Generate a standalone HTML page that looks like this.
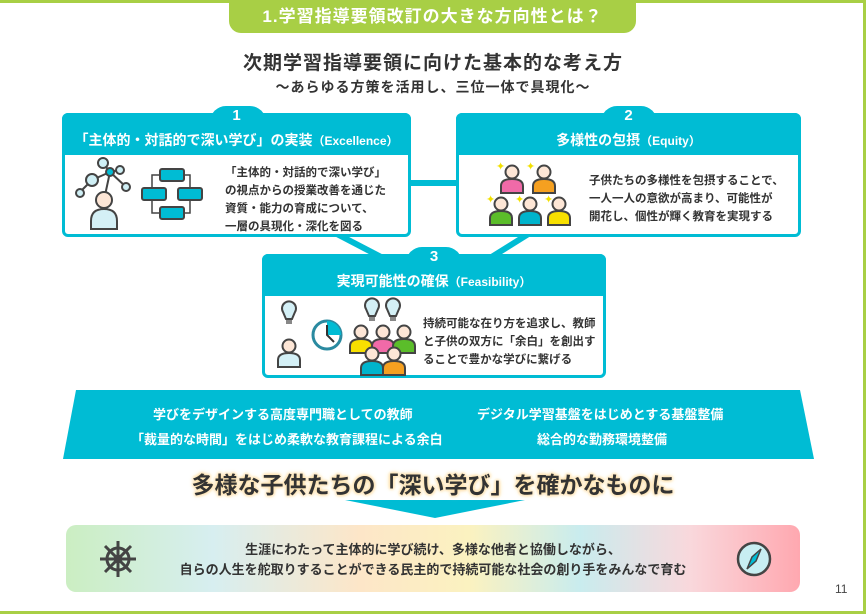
<!DOCTYPE html>
<html><head><meta charset="utf-8">
<style>
*{margin:0;padding:0;box-sizing:border-box}
body{width:866px;height:614px;position:relative;background:#fff;font-family:"Liberation Sans","Noto Sans CJK JP",sans-serif;color:#333;overflow:hidden}
.frame{position:absolute;left:0;top:0;width:866px;height:614px;border:3px solid #a8cf45;border-left:none}
.tab{position:absolute;left:229px;top:0;width:407px;height:33px;background:#a8cf45;border-radius:0 0 12px 12px;color:#fff;font-weight:bold;font-size:17px;text-align:center;line-height:33px;letter-spacing:1px}
.t1{position:absolute;left:0;width:866px;top:48px;text-align:center;font-size:19px;font-weight:bold;color:#333;letter-spacing:1px}
.t2{position:absolute;left:0;width:866px;top:77px;text-align:center;font-size:14px;font-weight:bold;color:#333;letter-spacing:1px}
.box{position:absolute;border:3px solid #00bcd4;border-radius:6px;background:#fff}
.hd{position:absolute;left:-3px;right:-3px;top:-3px;height:42px;background:#00bcd4;border-radius:6px 6px 0 0;color:#fff;font-weight:bold;text-align:center}
.hd .n{position:absolute;left:0;right:0;top:-6px;font-size:15px}
.hd .tt{position:absolute;left:0;right:0;top:17px;font-size:14px}
.hd .tt small{font-size:12px}
.bump{position:absolute;width:56px;height:16px;background:#00bcd4;border-radius:20px 20px 0 0;top:-10px}
.txt{position:absolute;font-size:11.5px;font-weight:bold;line-height:18px;color:#333}
.mid{position:absolute;color:#fff;font-weight:bold;font-size:13px}
.big{position:absolute;left:0;width:866px;top:466px;text-align:center;font-size:23px;font-weight:bold;color:#333;text-shadow:0 0 3px #fde3b0,0 0 3px #fde3b0,0 0 3px #fde3b0,0 0 6px #fde3b0}
.grad{position:absolute;left:66px;top:525px;width:734px;height:67px;border-radius:10px;background:linear-gradient(90deg,#cbeec2 0%,#d7eef0 20%,#fde6c8 40%,#fbf2c0 55%,#c9ecee 70%,#f9d8dc 85%,#ffa8b0 100%)}
.gt{position:absolute;left:0;right:0;top:15px;text-align:center;font-size:13px;font-weight:bold;line-height:20px;color:#333}
</style></head><body>
<div class="frame"></div>
<div class="tab">1.学習指導要領改訂の大きな方向性とは？</div>
<div class="t1">次期学習指導要領に向けた基本的な考え方</div>
<div class="t2">～あらゆる方策を活用し、三位一体で具現化～</div>

<svg style="position:absolute;left:0;top:0" width="866" height="614">
<g stroke="#00bcd4" stroke-width="6" fill="none">
<line x1="408" y1="183" x2="458" y2="183"/>
<polyline points="335,233 383,258"/>
<polyline points="530,233 490,258"/>
</g>
<polygon points="76,390 800,390 814,459 63,459" fill="#00bcd4"/>
<polygon points="345,500 525,500 435,518" fill="#00bcd4"/>
</svg>

<div class="box" style="left:62px;top:113px;width:349px;height:124px">
<div class="bump" style="left:145px"></div>
<div class="hd"><div class="n">1</div><div class="tt">「主体的・対話的で深い学び」の実装<small>（Excellence）</small></div></div>
<div class="txt" style="left:160px;top:48px">「主体的・対話的で深い学び」<br>の視点からの授業改善を通じた<br>資質・能力の育成について、<br>一層の具現化・深化を図る</div>
</div>
<div class="box" style="left:456px;top:113px;width:345px;height:124px">
<div class="bump" style="left:142px"></div>
<div class="hd"><div class="n">2</div><div class="tt">多様性の包摂<small>（Equity）</small></div></div>
<div class="txt" style="left:130px;top:56px">子供たちの多様性を包摂することで、<br>一人一人の意欲が高まり、可能性が<br>開花し、個性が輝く教育を実現する</div>
</div>
<div class="box" style="left:262px;top:254px;width:344px;height:124px">
<div class="bump" style="left:141px"></div>
<div class="hd"><div class="n">3</div><div class="tt">実現可能性の確保<small>（Feasibility）</small></div></div>
<div class="txt" style="left:158px;top:58px">持続可能な在り方を追求し、教師<br>と子供の双方に「余白」を創出す<br>ることで豊かな学びに繋げる</div>
</div>

<svg style="position:absolute;left:0;top:0" width="866" height="614">
<defs>
<g id="p"><circle cx="0" cy="-8" r="6.5" fill="#fde6d6" stroke="#444" stroke-width="2"/><path d="M-11,13 L-11,6 Q-11,-1 0,-1 Q11,-1 11,6 L11,13 Z" stroke="#444" stroke-width="2"/></g>
<g id="b"><path d="M-6,-4 A7,7 0 1 1 6,-4 L3,3 L-3,3 Z" fill="#d4f0f6" stroke="#444" stroke-width="2"/><rect x="-3" y="4" width="6" height="4" fill="#888"/></g>
</defs>
<g stroke="#444" stroke-width="2">
<line x1="104" y1="200" x2="110" y2="172"/><line x1="110" y1="172" x2="92" y2="180"/><line x1="110" y1="172" x2="103" y2="163"/><line x1="110" y1="172" x2="120" y2="170"/><line x1="110" y1="172" x2="125" y2="186"/><line x1="92" y1="180" x2="80" y2="192"/>
<circle cx="103" cy="163" r="5" fill="#cfeff5"/><circle cx="92" cy="180" r="6" fill="#cfeff5"/><circle cx="110" cy="172" r="4" fill="#00bcd4"/><circle cx="120" cy="170" r="4" fill="#cfeff5"/><circle cx="126" cy="187" r="4" fill="#cfeff5"/><circle cx="80" cy="193" r="4" fill="#cfeff5"/>
<circle cx="104" cy="200" r="8" fill="#fde6d6"/>
<path d="M91,229 L91,221 Q91,209 104,209 Q117,209 117,221 L117,229 Z" fill="#d4f0f6"/>
<rect x="160" y="169" width="24" height="12" rx="2" fill="#00bcd4"/><rect x="142" y="188" width="24" height="12" rx="2" fill="#00bcd4"/><rect x="178" y="188" width="24" height="12" rx="2" fill="#00bcd4"/><rect x="160" y="207" width="24" height="12" rx="2" fill="#00bcd4"/>
<polyline points="160,175 152,175 152,188" fill="none" stroke-width="1.5"/><polyline points="184,175 190,175 190,188" fill="none" stroke-width="1.5"/><polyline points="190,200 190,213 184,213" fill="none" stroke-width="1.5"/><polyline points="160,213 152,213 152,200" fill="none" stroke-width="1.5"/>
</g>
<use href="#p" x="512" y="180" fill="#f06aa8"/><use href="#p" x="544" y="180" fill="#f5a020"/>
<use href="#p" x="501" y="212" fill="#5bbd2a"/><use href="#p" x="530" y="212" fill="#00b4cc"/><use href="#p" x="559" y="212" fill="#f8e000"/>
<g fill="#f2e000" font-size="11"><text x="496" y="170">✦</text><text x="526" y="170">✦</text><text x="486" y="203">✦</text><text x="515" y="203">✦</text><text x="544" y="203">✦</text></g>
<use href="#b" x="289" y="316"/><use href="#p" x="289" y="354" fill="#d4f0f6"/>
<circle cx="327" cy="335" r="14" fill="#fff" stroke="#2a8aa0" stroke-width="3"/><path d="M327,335 L327,321 A14,14 0 0 1 341,335 Z" fill="#00bcd4"/><polyline points="327,325 327,335 334,342" fill="none" stroke="#333" stroke-width="2"/>
<use href="#b" x="372" y="313"/><use href="#b" x="393" y="313"/>
<use href="#p" x="361" y="340" fill="#f8e000"/><use href="#p" x="383" y="340" fill="#f06aa8"/><use href="#p" x="404" y="340" fill="#5bbd2a"/>
<use href="#p" x="372" y="362" fill="#00b4cc"/><use href="#p" x="394" y="362" fill="#f5a020"/>
</svg>

<div class="mid" style="left:153px;top:404px">学びをデザインする高度専門職としての教師</div>
<div class="mid" style="left:477px;top:404px">デジタル学習基盤をはじめとする基盤整備</div>
<div class="mid" style="left:131px;top:429px">「裁量的な時間」をはじめ柔軟な教育課程による余白</div>
<div class="mid" style="left:537px;top:429px">総合的な勤務環境整備</div>

<div class="big">多様な子供たちの「深い学び」を確かなものに</div>

<div class="grad"><div class="gt">生涯にわたって主体的に学び続け、多様な他者と協働しながら、<br>自らの人生を舵取りすることができる民主的で持続可能な社会の創り手をみんなで育む</div>
<svg style="position:absolute;left:30px;top:14px" width="44" height="40"><g stroke="#444" stroke-width="3" fill="none"><circle cx="22" cy="20" r="11"/><circle cx="22" cy="20" r="3" fill="#444"/><line x1="22" y1="2" x2="22" y2="38"/><line x1="4" y1="20" x2="40" y2="20"/><line x1="9" y1="7" x2="35" y2="33"/><line x1="35" y1="7" x2="9" y2="33"/></g></svg>
<svg style="position:absolute;left:668px;top:14px" width="40" height="40"><circle cx="20" cy="20" r="16" fill="#c8eef2" stroke="#444" stroke-width="2.5"/><path d="M27,10 L22,22 L13,30 L18,18 Z" fill="#00bcd4" stroke="#444" stroke-width="1.5"/></svg>
</div>
<div style="position:absolute;left:835px;top:582px;font-size:12px;color:#444">11</div>
</body></html>
